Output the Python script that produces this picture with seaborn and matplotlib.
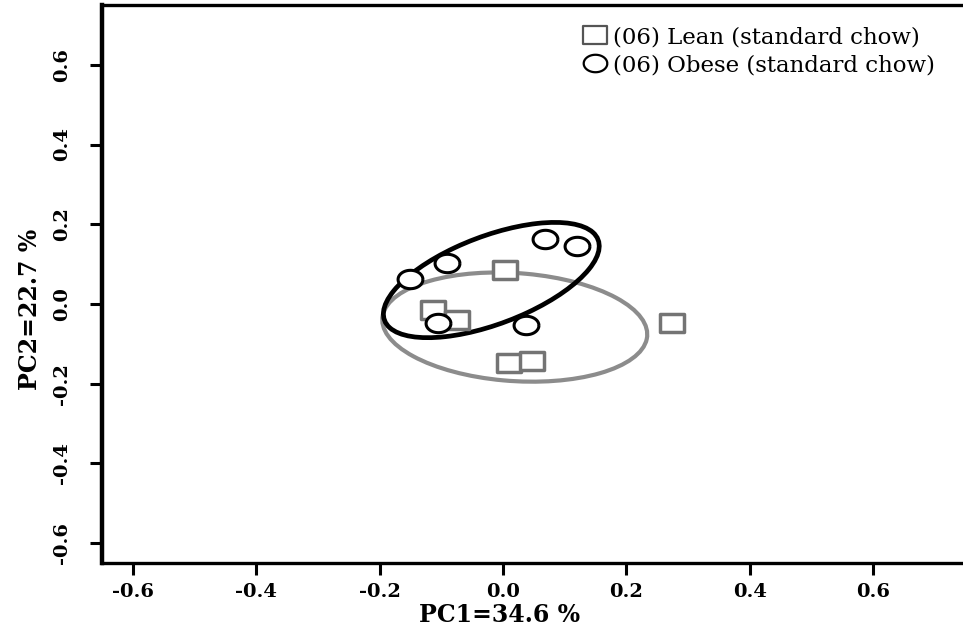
import numpy as np
import pandas as pd
import matplotlib
matplotlib.use("Agg")
import matplotlib.pyplot as plt
from matplotlib.path import Path
from matplotlib.patches import Ellipse
from matplotlib.lines import Line2D
import seaborn as sns

# PCA scores per sample
lean_pc1 = [0.003, -0.113, -0.075, 0.274, 0.010, 0.047]
lean_pc2 = [0.085, -0.015, -0.040, -0.048, -0.148, -0.143]
obese_pc1 = [-0.151, -0.091, 0.068, 0.120, -0.105, 0.037]
obese_pc2 = [0.063, 0.103, 0.163, 0.146, -0.048, -0.053]
group_labels = ["(06) Lean (standard chow)", "(06) Obese (standard chow)"]

# group ellipses: centre (PC1, PC2), full width, full height, angle in degrees
lean_ell_center = (0.019, -0.058)
lean_ell_size = (0.432, 0.270)
lean_ell_angle = -8
obese_ell_center = (-0.019, 0.060)
obese_ell_size = (0.407, 0.201)
obese_ell_angle = 36

x_ticks = [-0.6, -0.4, -0.2, 0.0, 0.2, 0.4, 0.6]
y_ticks = [-0.6, -0.4, -0.2, 0.0, 0.2, 0.4, 0.6]
x_title = "PC1=34.6 %"
y_title = "PC2=22.7 %"

df = pd.DataFrame({
    "PC1": lean_pc1 + obese_pc1,
    "PC2": lean_pc2 + obese_pc2,
    "group": [group_labels[0]] * len(lean_pc1) + [group_labels[1]] * len(obese_pc1),
})

sns.set_theme(style="white")
plt.rcParams["font.family"] = ["DejaVu Serif", "Liberation Serif"]
for key in ["text.color", "axes.labelcolor", "xtick.color", "ytick.color"]:
    plt.rcParams[key] = "black"

# slightly wide markers
sq = Path([(-1, -0.74), (1, -0.74), (1, 0.74), (-1, 0.74), (-1, -0.74)],
          [Path.MOVETO, Path.LINETO, Path.LINETO, Path.LINETO, Path.CLOSEPOLY])
t = np.linspace(0, 2 * np.pi, 60)
circ = Path(np.column_stack([np.cos(t), 0.74 * np.sin(t)]))

GRAY = "#747474"
fig = plt.figure(figsize=(9.63, 6.34), dpi=100)
ax = fig.add_axes([0.1059, 0.112, 0.897, 0.880])

ax.add_patch(Ellipse(lean_ell_center, lean_ell_size[0], lean_ell_size[1], angle=lean_ell_angle,
                     fill=False, edgecolor="#8c8c8c", linewidth=3.0, zorder=1))
ax.add_patch(Ellipse(obese_ell_center, obese_ell_size[0], obese_ell_size[1], angle=obese_ell_angle,
                     fill=False, edgecolor="black", linewidth=3.4, zorder=2))

lean = df[df.group == group_labels[0]]
obese = df[df.group == group_labels[1]]
sns.scatterplot(data=lean, x="PC1", y="PC2", marker=sq, s=320, facecolor="white",
                edgecolor=GRAY, linewidth=2.5, ax=ax, zorder=3, legend=False)
sns.scatterplot(data=obese, x="PC1", y="PC2", marker=circ, s=320, facecolor="white",
                edgecolor="black", linewidth=2.2, ax=ax, zorder=4, legend=False)

ax.set_xlim(-0.65, 0.75)
ax.set_ylim(-0.65, 0.75)
ax.set_xticks(x_ticks)
ax.set_yticks(y_ticks)
ax.set_xticklabels([f"{v:.1f}" for v in x_ticks], fontweight="bold", fontsize=14)
ax.set_yticklabels([f"{v:.1f}" for v in y_ticks], fontweight="bold", fontsize=14,
                   rotation=90, va="center")
ax.tick_params(axis="both", direction="out", length=8.5, width=2.2, color="black",
               labelcolor="black", bottom=True, left=True, top=False, right=False)
ax.tick_params(axis="x", pad=6)
ax.tick_params(axis="y", pad=14)
for side in ["left", "bottom", "top", "right"]:
    ax.spines[side].set_color("black")
    ax.spines[side].set_linewidth(2.4)
ax.spines["left"].set_linewidth(3.2)

ax.set_xlabel(x_title, fontweight="bold", fontsize=17, color="black")
ax.set_ylabel(y_title, fontweight="bold", fontsize=17, color="black")
ax.xaxis.set_label_coords(0.46, -0.071)
ax.yaxis.set_label_coords(-0.069, 0.455)

handles = [
    Line2D([], [], linestyle="none", marker=sq, markersize=17, markerfacecolor="white",
           markeredgecolor="#555555", markeredgewidth=1.6),
    Line2D([], [], linestyle="none", marker=circ, markersize=17, markerfacecolor="white",
           markeredgecolor="black", markeredgewidth=1.6),
]
ax.legend(handles, group_labels, loc="upper left", bbox_to_anchor=(0.557, 0.962),
          frameon=False, fontsize=16.5, handlelength=1.0, handletextpad=0.3,
          labelspacing=0.25, borderpad=0, borderaxespad=0, labelcolor="black")

fig.savefig("out.png", dpi=100)
